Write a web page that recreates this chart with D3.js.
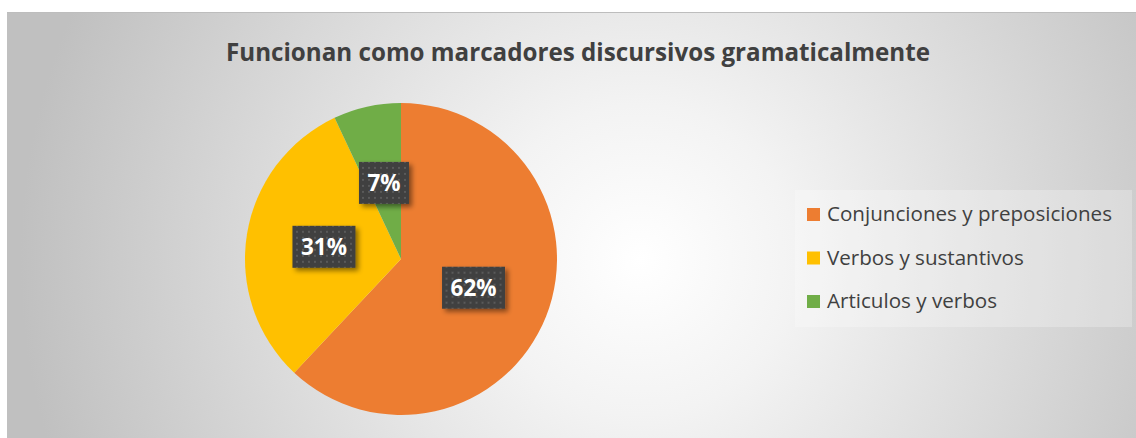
<!DOCTYPE html>
<html><head><meta charset="utf-8">
<script src="https://cdn.jsdelivr.net/npm/d3@7"></script>
<style>html,body{margin:0;padding:0;background:#fff;}svg{display:block;}</style>
</head><body>
<svg id="chart" width="1136" height="438"></svg>
<script>
const title = "Funcionan como marcadores discursivos gramaticalmente";
const categories = ["Conjunciones y preposiciones", "Verbos y sustantivos", "Articulos y verbos"];
const values = [62, 31, 7];
const colors = ["#ED7D31", "#FFC000", "#70AD47"];

const svg = d3.select("#chart");
const defs = svg.append("defs");
const grad = defs.append("radialGradient").attr("id","bg")
  .attr("gradientUnits","userSpaceOnUse").attr("cx",640).attr("cy",260).attr("r",620);
grad.append("stop").attr("offset",0).attr("stop-color","#ffffff");
grad.append("stop").attr("offset",0.25).attr("stop-color","#f3f3f3");
grad.append("stop").attr("offset",1).attr("stop-color","#c0c0c0");

const pat = defs.append("pattern").attr("id","dots").attr("patternUnits","userSpaceOnUse")
  .attr("width",6).attr("height",6);
pat.append("rect").attr("width",6).attr("height",6).attr("fill","#404040");
pat.append("rect").attr("x",2).attr("y",2).attr("width",2).attr("height",2).attr("fill","#5a5a5a");

const sh = defs.append("filter").attr("id","shadow").attr("x","-30%").attr("y","-30%").attr("width","170%").attr("height","170%");
sh.append("feDropShadow").attr("dx",3).attr("dy",3).attr("stdDeviation",2.5).attr("flood-color","#000").attr("flood-opacity",0.45);

// chart area
svg.append("rect").attr("x",7).attr("y",12).attr("width",1129).attr("height",426).attr("fill","url(#bg)");
svg.append("line").attr("x1",7).attr("x2",1136).attr("y1",12.5).attr("y2",12.5).attr("stroke","#bdbdbd").attr("stroke-width",1);

svg.append("text").attr("x",578).attr("y",61).attr("text-anchor","middle")
  .attr("font-family","'Open Sans', sans-serif").attr("font-weight","bold")
  .attr("font-size",25).attr("fill","#404040")
  .attr("textLength",704).attr("lengthAdjust","spacingAndGlyphs").text(title);

const cx = 401, cy = 259, r = 156;
const pie = d3.pie().sort(null).value(d => d)(values);
const arc = d3.arc().innerRadius(0).outerRadius(r);
const labelArc = d3.arc().innerRadius(r*0.5).outerRadius(r*0.5);
const g = svg.append("g").attr("transform",`translate(${cx},${cy})`);
g.selectAll("path").data(pie).join("path").attr("d",arc).attr("fill",(d,i)=>colors[i]);

const total = d3.sum(values);
const lab = g.selectAll("g.lab").data(pie).join("g").attr("class","lab")
  .attr("transform",d=>`translate(${labelArc.centroid(d)})`);
lab.each(function(d){
  const t = Math.round(d.data/total*100) + "%";
  const w = t.length === 2 ? 50 : 63, h = 42;
  const s = d3.select(this);
  s.append("rect").attr("x",-w/2).attr("y",-h/2).attr("width",w).attr("height",h)
    .attr("fill","url(#dots)").attr("filter","url(#shadow)");
  s.append("text").attr("text-anchor","middle").attr("dy","0.36em")
    .attr("font-family","'Open Sans', sans-serif").attr("font-weight","bold")
    .attr("font-size",22.5).attr("fill","#fff").text(t);
});

// legend
const lg = svg.append("g");
lg.append("rect").attr("x",795).attr("y",190).attr("width",337).attr("height",137).attr("fill","#ffffff").attr("opacity",0.25);
const rowY = d3.scalePoint().domain(categories).range([214, 301]);
const items = lg.selectAll("g.it").data(categories).join("g").attr("class","it")
  .attr("transform",d=>`translate(807,${rowY(d)})`);
items.append("rect").attr("x",0).attr("y",-6).attr("width",13).attr("height",13).attr("fill",(d,i)=>colors[i]);
items.append("text").attr("x",20).attr("dy","0.35em")
  .attr("font-family","'Open Sans', sans-serif").attr("font-size",20.6).attr("fill","#404040").text(d=>d);
</script>
</body></html>
